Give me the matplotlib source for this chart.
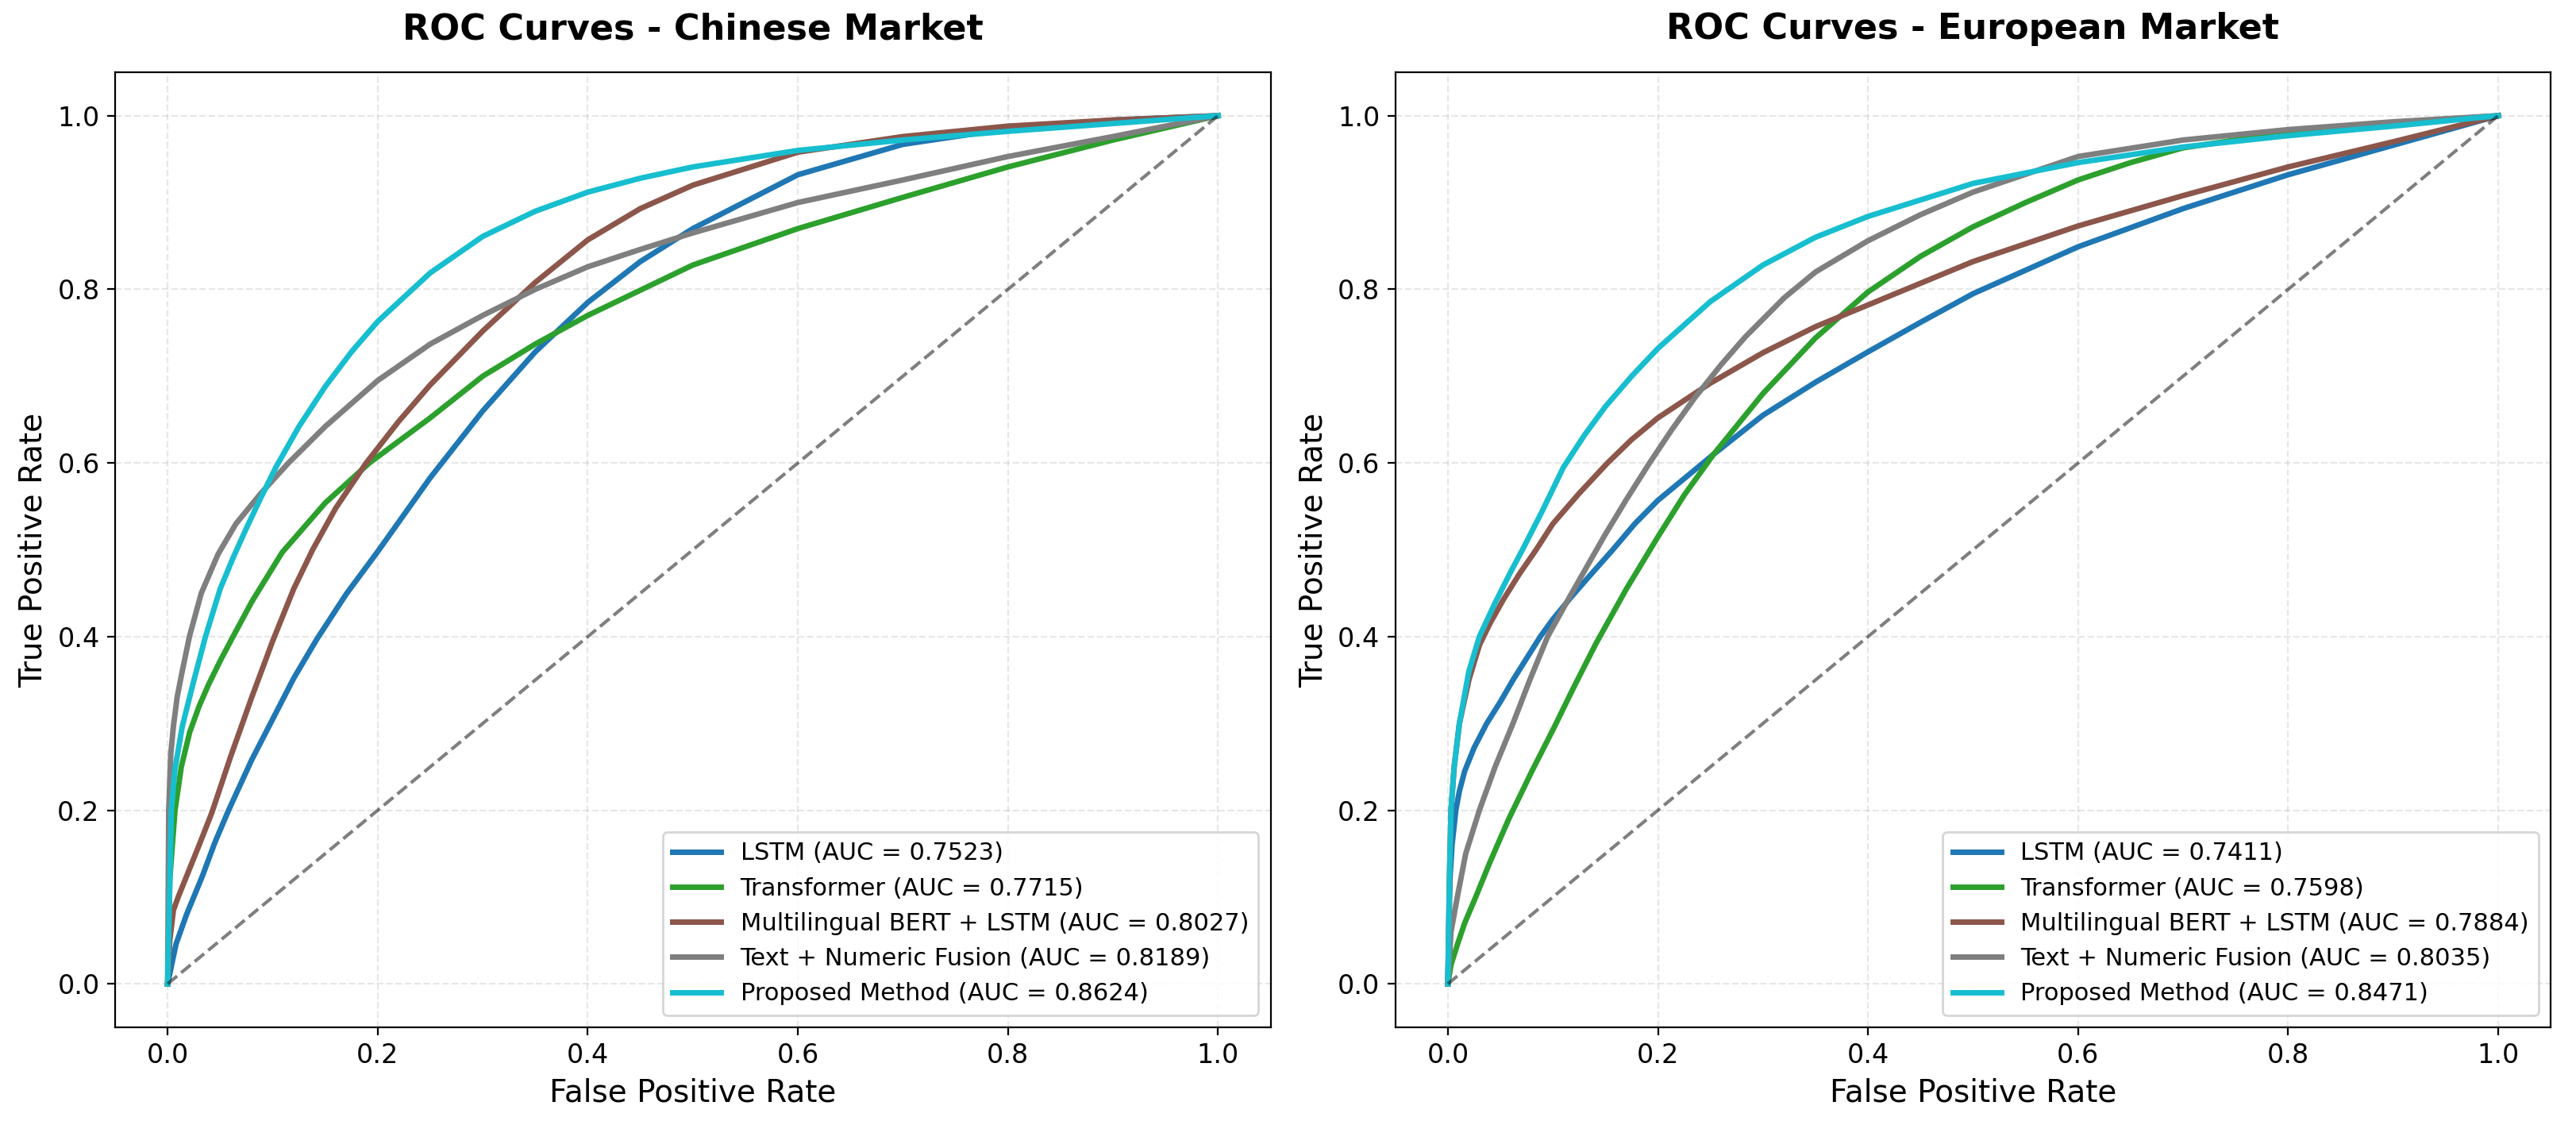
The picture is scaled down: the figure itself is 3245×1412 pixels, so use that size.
import matplotlib
matplotlib.use("Agg")
import matplotlib.pyplot as plt

# values (FPR, TPR)
models = ["LSTM", "Transformer", "Multilingual BERT + LSTM",
          "Text + Numeric Fusion", "Proposed Method"]
colors = ["#1f77b4", "#2ca02c", "#8c564b", "#7f7f7f", "#17becf"]

cn_auc = [0.7523, 0.7715, 0.8027, 0.8189, 0.8624]
eu_auc = [0.7411, 0.7598, 0.7884, 0.8035, 0.8471]

# Chinese market
cn_lstm_fpr = [0, 0.008, 0.018, 0.033, 0.045, 0.058, 0.08, 0.1, 0.12, 0.142, 0.17, 0.2, 0.25, 0.3,
               0.35, 0.4, 0.45, 0.5, 0.6, 0.7, 0.8, 0.9, 1.0]
cn_lstm_tpr = [0, 0.046, 0.08, 0.124, 0.163, 0.2, 0.258, 0.305, 0.352, 0.397, 0.449, 0.498, 0.583, 0.66,
               0.728, 0.785, 0.832, 0.87, 0.932, 0.967, 0.985, 0.995, 1.0]

cn_trans_fpr = [0, 0.002, 0.007, 0.013, 0.021, 0.03, 0.039, 0.05, 0.06, 0.08, 0.109, 0.15, 0.192, 0.25,
                0.3, 0.35, 0.4, 0.5, 0.6, 0.7, 0.8, 0.9, 1.0]
cn_trans_tpr = [0, 0.12, 0.2, 0.25, 0.29, 0.32, 0.345, 0.372, 0.395, 0.44, 0.497, 0.554, 0.6, 0.652,
                0.70, 0.737, 0.77, 0.828, 0.87, 0.906, 0.941, 0.972, 1.0]

cn_bert_fpr = [0, 0.002, 0.0055, 0.01, 0.02, 0.03, 0.042, 0.06, 0.08, 0.1, 0.12, 0.138, 0.16,
               0.189, 0.22, 0.25, 0.3, 0.35, 0.4, 0.45, 0.5, 0.6, 0.7, 0.8, 0.9, 1.0]
cn_bert_tpr = [0, 0.05, 0.085, 0.1, 0.13, 0.16, 0.197, 0.262, 0.33, 0.395, 0.455, 0.5, 0.548,
               0.6, 0.648, 0.69, 0.752, 0.808, 0.857, 0.893, 0.92, 0.958, 0.976, 0.988, 0.995, 1.0]

cn_fusion_fpr = [0, 0.001, 0.003, 0.0055, 0.009, 0.013, 0.0207, 0.032, 0.048, 0.065, 0.0887, 0.115, 0.15,
                 0.2, 0.25, 0.3, 0.35, 0.4, 0.45, 0.5, 0.6, 0.7, 0.8, 0.9, 1.0]
cn_fusion_tpr = [0, 0.2, 0.265, 0.297, 0.33, 0.355, 0.4, 0.45, 0.495, 0.53, 0.565, 0.6, 0.642,
                 0.695, 0.737, 0.77, 0.80, 0.826, 0.846, 0.865, 0.9, 0.926, 0.953, 0.976, 1.0]

cn_prop_fpr = [0, 0.0035, 0.007, 0.014, 0.0244, 0.036, 0.05, 0.062, 0.075, 0.0887, 0.103, 0.125, 0.15,
               0.175, 0.2, 0.25, 0.3, 0.35, 0.4, 0.45, 0.5, 0.6, 0.7, 0.8, 0.9, 1.0]
cn_prop_tpr = [0, 0.2, 0.248, 0.297, 0.347, 0.4, 0.455, 0.49, 0.525, 0.56, 0.595, 0.642, 0.688,
               0.728, 0.763, 0.819, 0.861, 0.89, 0.912, 0.928, 0.941, 0.960, 0.972, 0.982, 0.991, 1.0]

# European market
eu_lstm_fpr = [0, 0.002, 0.004, 0.0076, 0.011, 0.016, 0.025, 0.037, 0.05, 0.062, 0.075, 0.088, 0.1,
               0.117, 0.135, 0.157, 0.178, 0.2, 0.253, 0.3, 0.35, 0.4, 0.45, 0.5, 0.6, 0.7, 0.8, 0.9, 1.0]
eu_lstm_tpr = [0, 0.12, 0.16, 0.2, 0.222, 0.245, 0.272, 0.3, 0.325, 0.35, 0.375, 0.4, 0.42,
               0.445, 0.47, 0.5, 0.53, 0.557, 0.61, 0.655, 0.693, 0.728, 0.762, 0.795, 0.849, 0.893,
               0.932, 0.966, 1.0]

eu_trans_fpr = [0, 0.003, 0.009, 0.016, 0.0265, 0.04, 0.058, 0.08, 0.101, 0.12, 0.141, 0.17, 0.2,
                0.225, 0.253, 0.3, 0.35, 0.4, 0.45, 0.5, 0.55, 0.6, 0.65, 0.7, 0.8, 0.9, 1.0]
eu_trans_tpr = [0, 0.022, 0.045, 0.07, 0.1, 0.14, 0.19, 0.245, 0.295, 0.342, 0.392, 0.455, 0.515,
                0.563, 0.61, 0.68, 0.744, 0.797, 0.838, 0.872, 0.900, 0.926, 0.946, 0.963, 0.981,
                0.991, 1.0]

eu_bert_fpr = [0, 0.0015, 0.003, 0.006, 0.011, 0.02, 0.030, 0.04, 0.053, 0.068, 0.084, 0.1, 0.125,
               0.152, 0.175, 0.2, 0.25, 0.3, 0.35, 0.4, 0.5, 0.6, 0.7, 0.8, 0.9, 1.0]
eu_bert_tpr = [0, 0.12, 0.2, 0.25, 0.3, 0.35, 0.39, 0.415, 0.443, 0.472, 0.50, 0.53, 0.565,
               0.60, 0.627, 0.652, 0.692, 0.727, 0.757, 0.782, 0.832, 0.873, 0.908, 0.941, 0.970, 1.0]

eu_fusion_fpr = [0, 0.003, 0.009, 0.017, 0.030, 0.045, 0.062, 0.078, 0.095, 0.117, 0.133, 0.15, 0.17,
                 0.192, 0.213, 0.235, 0.26, 0.283, 0.32, 0.35, 0.4, 0.45, 0.5, 0.6, 0.7, 0.8, 0.9, 1.0]
eu_fusion_tpr = [0, 0.06, 0.1, 0.15, 0.2, 0.25, 0.3, 0.35, 0.4, 0.448, 0.482, 0.518, 0.558,
                 0.6, 0.638, 0.675, 0.713, 0.745, 0.79, 0.82, 0.856, 0.886, 0.912, 0.953, 0.972,
                 0.984, 0.993, 1.0]

eu_prop_fpr = [0, 0.0015, 0.003, 0.006, 0.011, 0.02, 0.030, 0.045, 0.06, 0.071, 0.09, 0.11, 0.13,
               0.15, 0.175, 0.2, 0.25, 0.3, 0.35, 0.4, 0.5, 0.6, 0.7, 0.8, 0.9, 1.0]
eu_prop_tpr = [0, 0.12, 0.2, 0.25, 0.3, 0.36, 0.4, 0.439, 0.475, 0.50, 0.545, 0.595, 0.632,
               0.665, 0.70, 0.732, 0.786, 0.828, 0.86, 0.884, 0.922, 0.946, 0.964, 0.977, 0.988, 1.0]

cn_curves = [(cn_lstm_fpr, cn_lstm_tpr), (cn_trans_fpr, cn_trans_tpr), (cn_bert_fpr, cn_bert_tpr),
             (cn_fusion_fpr, cn_fusion_tpr), (cn_prop_fpr, cn_prop_tpr)]
eu_curves = [(eu_lstm_fpr, eu_lstm_tpr), (eu_trans_fpr, eu_trans_tpr), (eu_bert_fpr, eu_bert_tpr),
             (eu_fusion_fpr, eu_fusion_tpr), (eu_prop_fpr, eu_prop_tpr)]

fig, axes = plt.subplots(1, 2, figsize=(16.225, 7.06), dpi=200)
fig.subplots_adjust(left=0.0447, right=0.9902, bottom=0.0836, top=0.9355, wspace=0.108)

panels = [("ROC Curves - Chinese Market", cn_curves, cn_auc),
          ("ROC Curves - European Market", eu_curves, eu_auc)]

for ax, (title, curves, aucs) in zip(axes, panels):
    for name, col, (fpr, tpr), auc in zip(models, colors, curves, aucs):
        ax.plot(fpr, tpr, color=col, lw=2.5, label=f"{name} (AUC = {auc:.4f})")
    ax.plot([0, 1], [0, 1], "k--", lw=1.5, alpha=0.5)
    ax.set_xlim(-0.05, 1.05)
    ax.set_ylim(-0.05, 1.05)
    ax.set_xlabel("False Positive Rate", fontsize=14)
    ax.set_ylabel("True Positive Rate", fontsize=14)
    ax.set_title(title, fontsize=16, fontweight="bold", pad=15)
    ax.tick_params(labelsize=12)
    ax.legend(loc="lower right", fontsize=11)
    ax.grid(True, alpha=0.3, linestyle="--")

plt.savefig("out.png", dpi=200)
